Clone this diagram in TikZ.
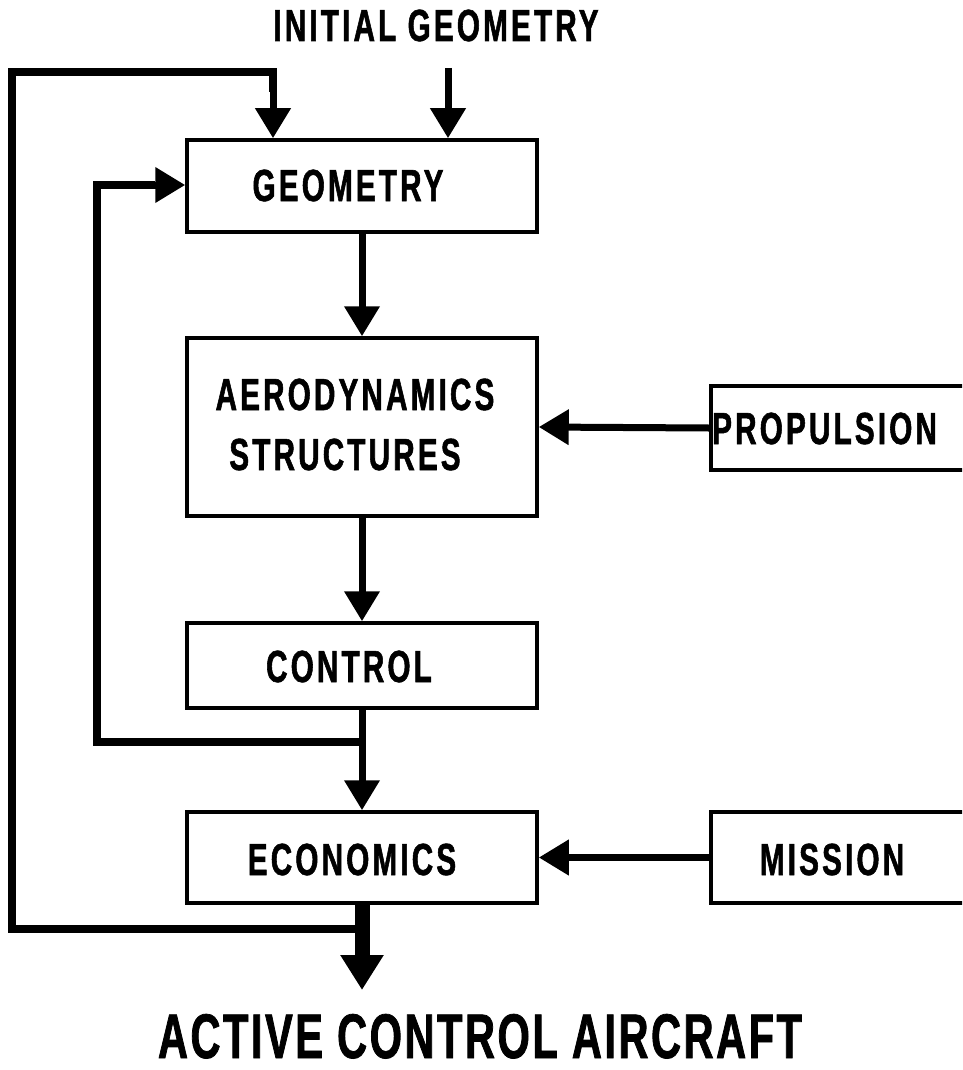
\documentclass[tikz,border=0pt]{standalone}
\usepackage{fontspec}
\newfontfamily\condf[FakeStretch=0.66,LetterSpace=7,FakeBold=1.2]{Liberation Sans}
\newfontfamily\condb[FakeStretch=0.66,LetterSpace=4,FakeBold=1.2]{Liberation Sans}
\usetikzlibrary{arrows.meta}
\begin{document}
\begin{tikzpicture}[x=1pt,y=-1pt,
  box/.style={draw=black,line width=3.5pt,minimum width=350pt,inner sep=0pt},
  rbox/.style={draw=black,line width=3.5pt,minimum width=351pt,inner sep=0pt,anchor=west},
  lab/.style={font=\condf\bfseries\fontsize{45}{50}\selectfont,inner sep=0pt,anchor=base},
  arr/.style={line width=7pt,-{Triangle[length=30pt,width=34pt]}},
  loop/.style={line width=7.5pt}]
\useasboundingbox (0,0) rectangle (962,1070);
\clip (0,0) rectangle (962,1070);
% boxes
\node[box,minimum height=92pt] (geo) at (362,186) {};
\node[box,minimum height=178pt] (aero) at (362,427) {};
\node[box,minimum height=85pt] (ctrl) at (362,665.5) {};
\node[box,minimum height=91pt] (econ) at (362,857.5) {};
\node[rbox,minimum height=84pt] (prop) at (709,428) {};
\node[rbox,minimum height=91pt] (miss) at (709,857.5) {};
% labels
\node[lab] at (436,41) {INITIAL GEOMETRY};
\node[lab] at (348,201) {GEOMETRY};
\node[lab] at (355,410) {AERODYNAMICS};
\node[lab] at (345,470) {STRUCTURES};
\node[lab] at (349,682) {CONTROL};
\node[lab] at (352,875) {ECONOMICS};
\node[lab,anchor=base west] at (712,444) {PROPULSION};
\node[lab] at (832,875) {MISSION};
\node[font=\condb\bfseries\fontsize{63}{70}\selectfont,inner sep=0pt,anchor=base] at (480,1058) {ACTIVE CONTROL AIRCRAFT};
% coordinates
\coordinate (init) at (448,68);
\coordinate (j1) at (362,742);
\coordinate (j2) at (362,929);
\coordinate (iL) at (97,742);
\coordinate (iT) at (97,185);
\coordinate (oL) at (12,929);
\coordinate (oT) at (12,72);
\coordinate (oR) at (273,72);
\coordinate (out) at (362,990);
% connectors
\draw[arr] (init) -- (init |- geo.north);
\draw[arr] (geo.south) -- (aero.north);
\draw[arr] (aero.south) -- (ctrl.north);
\draw[arr] (ctrl.south) -- (econ.north);
\draw[arr] (prop.west) -- (aero.east);
\draw[arr] (miss.west) -- (econ.east);
\draw[loop,line join=miter] (j1) -- (iL) -- (iT) -- ([xshift=-30pt]geo.west |- iT);
\draw[arr] (iT) -- (geo.west |- iT);
\draw[loop,line join=miter] (j2) -- (oL) -- (oT) -- (oR) -- ++(0,20);
\draw[arr] (oR) -- (oR |- geo.north);
\draw[line width=15pt,-{Triangle[length=35pt,width=41pt]}] (econ.south) -- (out);
\end{tikzpicture}
\end{document}
